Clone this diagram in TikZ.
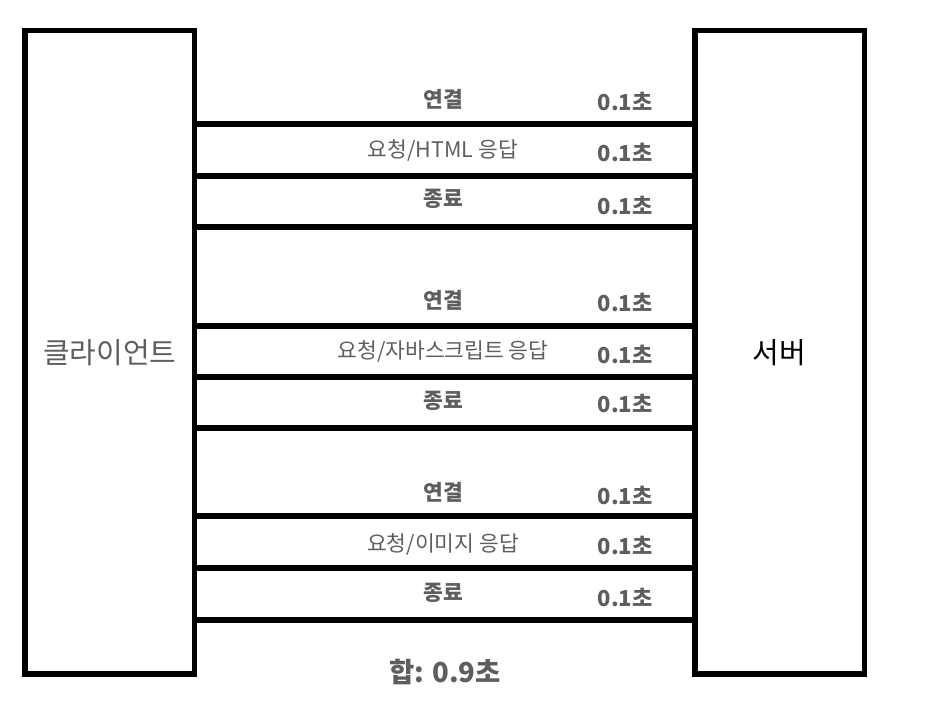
\documentclass[tikz,border=0pt]{standalone}
\usepackage{fontspec}
\setmainfont{Noto Sans CJK KR}
\usetikzlibrary{positioning}
\definecolor{labelgray}{HTML}{5E5E5E}

\begin{document}
\begin{tikzpicture}[x=1pt, y=-1pt,
    box/.style={draw, rectangle, line width=5.5pt, minimum width=169.5pt, minimum height=643.5pt, inner sep=0pt},
    link/.style={line width=5.5pt},
    msg/.style={text=labelgray, font=\fontsize{21.5}{24}\selectfont},
    boldmsg/.style={text=labelgray, font=\fontsize{21.5}{24}\selectfont\bfseries},
    time/.style={text=labelgray, font=\fontsize{22}{24}\selectfont\bfseries, anchor=east}]
\useasboundingbox (0,0) rectangle (930,724);

% Client and server
\node[box] (client) at (109.75,352.2) {};
\node[box] (server) at (779.5,352.2) {};
\node[text=labelgray, font=\fontsize{29}{32}\selectfont] (clientlabel) at (client.center) {클라이언트};
\node[font=\fontsize{29}{32}\selectfont] (serverlabel) at (server.center) {서버};

% Row positions
\coordinate (l1) at (445,124);
\coordinate (l2) at (445,176);
\coordinate (l3) at (445,227);
\coordinate (l4) at (445,326);
\coordinate (l5) at (445,377);
\coordinate (l6) at (445,428);
\coordinate (l7) at (445,516);
\coordinate (l8) at (445,568);
\coordinate (l9) at (445,620);

% HTML
\node[boldmsg] (conn1) at (443,99) {연결};
\node[msg] (req1) at (443,150) {요청/HTML 응답};
\node[boldmsg] (close1) at (443,199) {종료};
\node[time] (t1) at (656,101) {0.1초};
\node[time] (t2) at (656,152) {0.1초};
\node[time] (t3) at (656,205) {0.1초};

% JavaScript
\node[boldmsg] (conn2) at (443,300) {연결};
\node[msg] (req2) at (443,351) {요청/자바스크립트 응답};
\node[boldmsg] (close2) at (443,401) {종료};
\node[time] (t4) at (656,302) {0.1초};
\node[time] (t5) at (656,354) {0.1초};
\node[time] (t6) at (656,403) {0.1초};

% Image
\node[boldmsg] (conn3) at (443,492) {연결};
\node[msg] (req3) at (443,544) {요청/이미지 응답};
\node[boldmsg] (close3) at (443,593) {종료};
\node[time] (t7) at (656,495) {0.1초};
\node[time] (t8) at (656,545) {0.1초};
\node[time] (t9) at (656,597) {0.1초};

% Lines
\draw[link] (client.east |- l1) -- (server.west |- l1);
\draw[link] (client.east |- l2) -- (server.west |- l2);
\draw[link] (client.east |- l3) -- (server.west |- l3);
\draw[link] (client.east |- l4) -- (server.west |- l4);
\draw[link] (client.east |- l5) -- (server.west |- l5);
\draw[link] (client.east |- l6) -- (server.west |- l6);
\draw[link] (client.east |- l7) -- (server.west |- l7);
\draw[link] (client.east |- l8) -- (server.west |- l8);
\draw[link] (client.east |- l9) -- (server.west |- l9);

% Total
\node[text=labelgray, font=\fontsize{27.5}{30}\selectfont\bfseries] (total) at (445,672) {합: 0.9초};

\end{tikzpicture}
\end{document}
